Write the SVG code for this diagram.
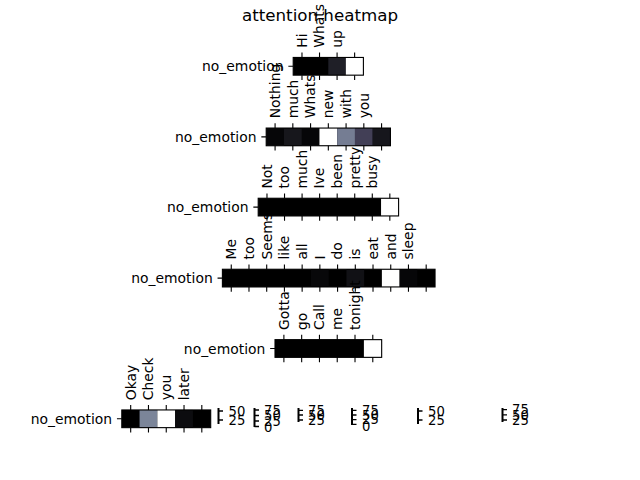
<svg xmlns="http://www.w3.org/2000/svg" width="640" height="480" viewBox="0 0 640 480">
<style>
text{font-family:"DejaVu Sans","Liberation Sans",sans-serif;fill:#000}
.t{font-size:13.9px}
.yl{font-size:13.9px;text-anchor:end}
.ti{font-size:16.7px;text-anchor:middle}
.cb{font-size:13.2px}
.sp{fill:none;stroke:#000;stroke-width:1.1}
.tk{fill:none;stroke:#000;stroke-width:1.1}
.ct{fill:none;stroke:#000;stroke-width:1.3}
.cl{fill:none;stroke:#000;stroke-width:2}
</style>
<rect width="640" height="480" fill="#fff"/>
<text class="ti" x="320" y="21">attention heatmap</text>
<g id="connectors"></g>

<g id="heatmap1">
<rect x="293.2" y="57.45" width="70.2" height="17.7" fill="#000"/>
<rect x="328.3" y="57.45" width="17.55" height="17.7" fill="#1f1f27"/>
<rect x="345.85" y="57.45" width="17.55" height="17.7" fill="#fff"/>
<rect class="sp" x="293.2" y="57.45" width="70.2" height="17.7"/>
<path class="tk" d="M301.98 57.45v-4.86M319.53 57.45v-4.86M337.08 57.45v-4.86M354.63 57.45v-4.86M301.98 75.15v4.86M319.53 75.15v4.86M337.08 75.15v4.86M354.63 75.15v4.86M293.2 66.3h-4.86"/>
<text class="yl" x="283.5" y="71.3">no_emotion</text>
<text class="t" transform="translate(306.8 47.75) rotate(-90)">Hi</text>
<text class="t" transform="translate(324.3 47.75) rotate(-90)">Whats</text>
<text class="t" transform="translate(341.9 47.75) rotate(-90)">up</text>
</g>

<g id="heatmap2">
<rect x="266.2" y="128.05" width="124.25" height="17.7" fill="#060608"/>
<rect x="283.95" y="128.05" width="17.75" height="17.7" fill="#17171c"/>
<rect x="319.45" y="128.05" width="17.75" height="17.7" fill="#fff"/>
<rect x="337.2" y="128.05" width="17.75" height="17.7" fill="#757d93"/>
<rect x="354.95" y="128.05" width="17.75" height="17.7" fill="#423f56"/>
<rect x="372.7" y="128.05" width="17.75" height="17.7" fill="#16161c"/>
<rect class="sp" x="266.2" y="128.05" width="124.25" height="17.7"/>
<path class="tk" d="M275.08 128.05v-4.86M292.83 128.05v-4.86M310.58 128.05v-4.86M328.33 128.05v-4.86M346.08 128.05v-4.86M363.83 128.05v-4.86M381.58 128.05v-4.86M275.08 145.75v4.86M292.83 145.75v4.86M310.58 145.75v4.86M328.33 145.75v4.86M346.08 145.75v4.86M363.83 145.75v4.86M381.58 145.75v4.86M266.2 136.9h-4.86"/>
<text class="yl" x="256.5" y="141.9">no_emotion</text>
<text class="t" transform="translate(279.9 118.35) rotate(-90)">Nothing</text>
<text class="t" transform="translate(297.6 118.35) rotate(-90)">much</text>
<text class="t" transform="translate(315.4 118.35) rotate(-90)">Whats</text>
<text class="t" transform="translate(333.1 118.35) rotate(-90)">new</text>
<text class="t" transform="translate(350.9 118.35) rotate(-90)">with</text>
<text class="t" transform="translate(368.6 118.35) rotate(-90)">you</text>
</g>

<g id="heatmap3">
<rect x="258.2" y="198.25" width="140.4" height="17.7" fill="#000"/>
<rect x="381.05" y="198.25" width="17.55" height="17.7" fill="#fff"/>
<rect class="sp" x="258.2" y="198.25" width="140.4" height="17.7"/>
<path class="tk" d="M266.98 198.25v-4.86M284.53 198.25v-4.86M302.08 198.25v-4.86M319.63 198.25v-4.86M337.18 198.25v-4.86M354.73 198.25v-4.86M372.28 198.25v-4.86M389.83 198.25v-4.86M266.98 215.95v4.86M284.53 215.95v4.86M302.08 215.95v4.86M319.63 215.95v4.86M337.18 215.95v4.86M354.73 215.95v4.86M372.28 215.95v4.86M389.83 215.95v4.86M258.2 207.1h-4.86"/>
<text class="yl" x="248.5" y="212.1">no_emotion</text>
<text class="t" transform="translate(271.8 188.55) rotate(-90)">Not</text>
<text class="t" transform="translate(289.3 188.55) rotate(-90)">too</text>
<text class="t" transform="translate(306.9 188.55) rotate(-90)">much</text>
<text class="t" transform="translate(324.4 188.55) rotate(-90)">Ive</text>
<text class="t" transform="translate(342.0 188.55) rotate(-90)">been</text>
<text class="t" transform="translate(359.5 188.55) rotate(-90)">pretty</text>
<text class="t" transform="translate(377.1 188.55) rotate(-90)">busy</text>
</g>

<g id="heatmap4">
<rect x="222.4" y="269.25" width="212.64" height="17.7" fill="#000"/>
<rect x="311.0" y="269.25" width="17.72" height="17.7" fill="#08080a"/>
<rect x="346.44" y="269.25" width="17.72" height="17.7" fill="#111115"/>
<rect x="381.88" y="269.25" width="17.72" height="17.7" fill="#fff"/>
<rect x="399.6" y="269.25" width="17.72" height="17.7" fill="#060608"/>
<rect class="sp" x="222.4" y="269.25" width="212.64" height="17.7"/>
<path class="tk" d="M231.26 269.25v-4.86M248.98 269.25v-4.86M266.7 269.25v-4.86M284.42 269.25v-4.86M302.14 269.25v-4.86M319.86 269.25v-4.86M337.58 269.25v-4.86M355.3 269.25v-4.86M373.02 269.25v-4.86M390.74 269.25v-4.86M408.46 269.25v-4.86M426.18 269.25v-4.86M231.26 286.95v4.86M248.98 286.95v4.86M266.7 286.95v4.86M284.42 286.95v4.86M302.14 286.95v4.86M319.86 286.95v4.86M337.58 286.95v4.86M355.3 286.95v4.86M373.02 286.95v4.86M390.74 286.95v4.86M408.46 286.95v4.86M426.18 286.95v4.86M222.4 278.1h-4.86"/>
<text class="yl" x="212.7" y="283.1">no_emotion</text>
<text class="t" transform="translate(236.1 259.55) rotate(-90)">Me</text>
<text class="t" transform="translate(253.8 259.55) rotate(-90)">too</text>
<text class="t" transform="translate(271.5 259.55) rotate(-90)">Seems</text>
<text class="t" transform="translate(289.2 259.55) rotate(-90)">like</text>
<text class="t" transform="translate(306.9 259.55) rotate(-90)">all</text>
<text class="t" transform="translate(324.7 259.55) rotate(-90)">I</text>
<text class="t" transform="translate(342.4 259.55) rotate(-90)">do</text>
<text class="t" transform="translate(360.1 259.55) rotate(-90)">is</text>
<text class="t" transform="translate(377.8 259.55) rotate(-90)">eat</text>
<text class="t" transform="translate(395.5 259.55) rotate(-90)">and</text>
<text class="t" transform="translate(413.3 259.55) rotate(-90)">sleep</text>
</g>

<g id="heatmap5">
<rect x="275.0" y="339.65" width="106.68" height="17.7" fill="#000"/>
<rect x="363.9" y="339.65" width="17.78" height="17.7" fill="#fff"/>
<rect class="sp" x="275.0" y="339.65" width="106.68" height="17.7"/>
<path class="tk" d="M283.89 339.65v-4.86M301.67 339.65v-4.86M319.45 339.65v-4.86M337.23 339.65v-4.86M355.01 339.65v-4.86M372.79 339.65v-4.86M283.89 357.35v4.86M301.67 357.35v4.86M319.45 357.35v4.86M337.23 357.35v4.86M355.01 357.35v4.86M372.79 357.35v4.86M275.0 348.5h-4.86"/>
<text class="yl" x="265.3" y="353.5">no_emotion</text>
<text class="t" transform="translate(288.7 329.95) rotate(-90)">Gotta</text>
<text class="t" transform="translate(306.5 329.95) rotate(-90)">go</text>
<text class="t" transform="translate(324.3 329.95) rotate(-90)">Call</text>
<text class="t" transform="translate(342.0 329.95) rotate(-90)">me</text>
<text class="t" transform="translate(359.8 329.95) rotate(-90)">tonight</text>
</g>

<g id="heatmap6">
<rect x="121.8" y="409.95" width="88.9" height="17.7" fill="#000"/>
<rect x="139.58" y="409.95" width="17.78" height="17.7" fill="#7b8599"/>
<rect x="157.36" y="409.95" width="17.78" height="17.7" fill="#fff"/>
<rect x="175.14" y="409.95" width="17.78" height="17.7" fill="#0c0c0f"/>
<rect class="sp" x="121.8" y="409.95" width="88.9" height="17.7"/>
<path class="tk" d="M130.69 409.95v-4.86M148.47 409.95v-4.86M166.25 409.95v-4.86M184.03 409.95v-4.86M201.81 409.95v-4.86M130.69 427.65v4.86M148.47 427.65v4.86M166.25 427.65v4.86M184.03 427.65v4.86M201.81 427.65v4.86M121.8 418.8h-4.86"/>
<text class="yl" x="112.1" y="423.8">no_emotion</text>
<text class="t" transform="translate(135.5 400.25) rotate(-90)">Okay</text>
<text class="t" transform="translate(153.3 400.25) rotate(-90)">Check</text>
<text class="t" transform="translate(171.1 400.25) rotate(-90)">you</text>
<text class="t" transform="translate(188.8 400.25) rotate(-90)">later</text>
</g>

<g id="colorbar1">
<path class="cl" d="M218.5 408V424"/>
<path class="ct" d="M218.5 411h4.5M218.5 420h4.5"/>
<text class="cb" x="228.5" y="415.7">50</text>
<text class="cb" x="228.5" y="424.7">25</text>
</g>
<g id="colorbar2">
<path class="cl" d="M254.5 408V427"/>
<path class="ct" d="M254.5 410h4.5M254.5 415.5h4.5M254.5 421h4.5M254.5 426.5h4.5"/>
<text class="cb" x="264" y="414.7">75</text>
<text class="cb" x="264" y="420.2">50</text>
<text class="cb" x="264" y="425.7">25</text>
<text class="cb" x="264" y="432.2">0</text>
</g>
<g id="colorbar3">
<path class="cl" d="M298.5 408V422"/>
<path class="ct" d="M298.5 410.3h4.5M298.5 415h4.5M298.5 420h4.5"/>
<text class="cb" x="308" y="415">75</text>
<text class="cb" x="308" y="419.7">50</text>
<text class="cb" x="308" y="424.7">25</text>
</g>
<g id="colorbar4">
<path class="cl" d="M352 408V425"/>
<path class="ct" d="M352 410.3h4.5M352 415h4.5M352 419.7h4.5M352 424.4h4.5"/>
<text class="cb" x="362" y="415">75</text>
<text class="cb" x="362" y="419.7">50</text>
<text class="cb" x="362" y="424.4">25</text>
<text class="cb" x="362" y="431.1">0</text>
</g>
<g id="colorbar5">
<path class="cl" d="M418 408V424"/>
<path class="ct" d="M418 411h4.5M418 420h4.5"/>
<text class="cb" x="428" y="415.7">50</text>
<text class="cb" x="428" y="424.7">25</text>
</g>
<g id="colorbar6">
<path class="cl" d="M502.5 408V422"/>
<path class="ct" d="M502.5 409.7h4.5M502.5 414.8h4.5M502.5 420h4.5"/>
<text class="cb" x="512" y="414.4">75</text>
<text class="cb" x="512" y="419.5">50</text>
<text class="cb" x="512" y="424.7">25</text>
</g>
</svg>
